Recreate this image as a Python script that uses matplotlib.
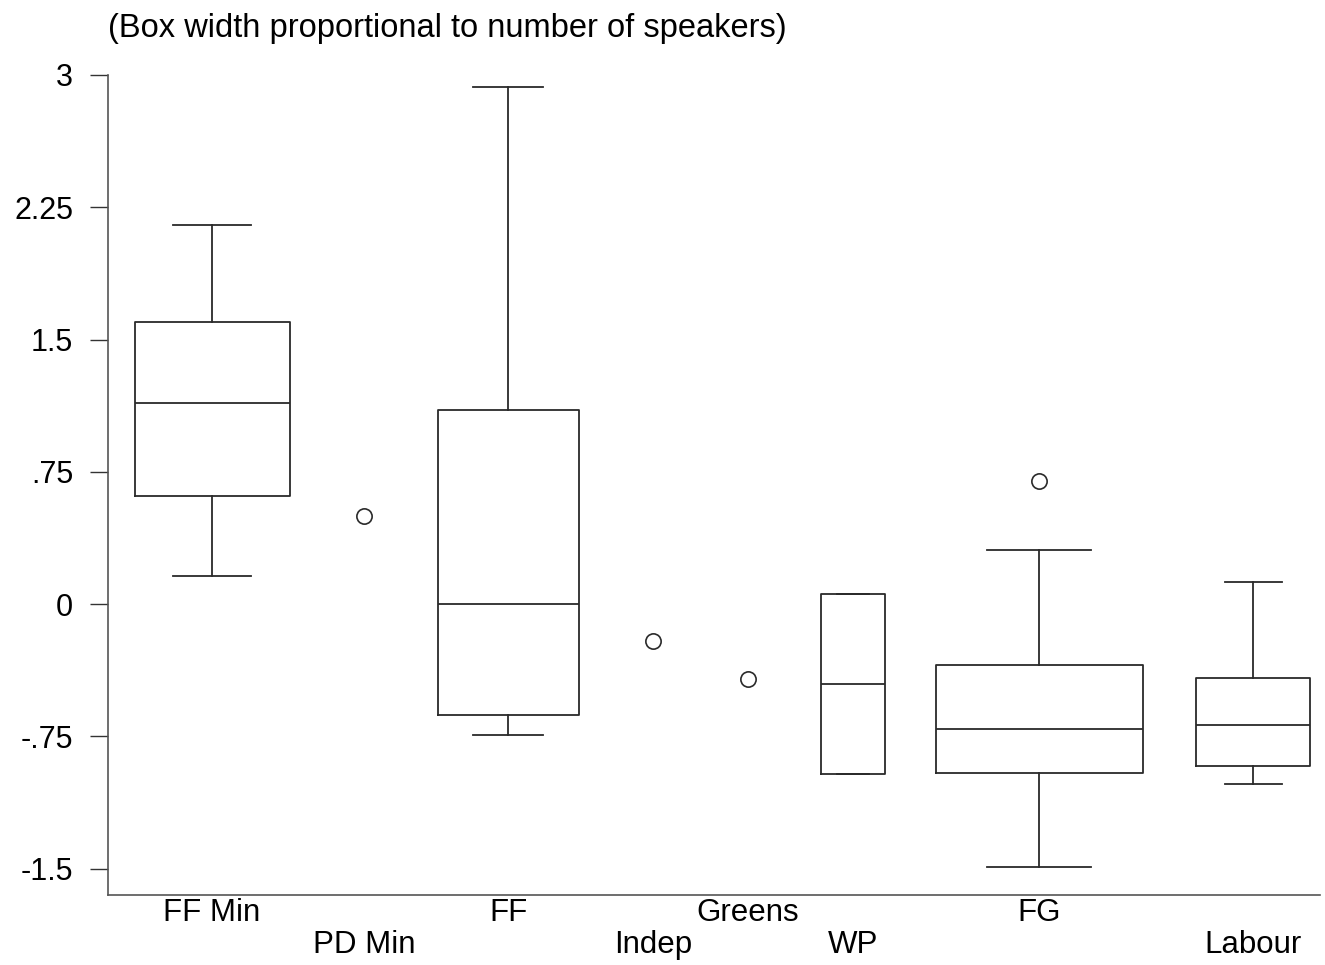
import numpy as np
import matplotlib.pyplot as plt

plt.rcParams['font.family'] = ['Liberation Sans', 'DejaVu Sans']

# groups
parties = ['FF Min', 'PD Min', 'FF', 'Indep', 'Greens', 'WP', 'FG', 'Labour']

# groups that get a box
box_parties = ['FF Min', 'FF', 'WP', 'FG', 'Labour']
whislo = [0.16, -0.74, -0.965, -1.49, -1.02]
q1 = [0.61, -0.63, -0.965, -0.96, -0.92]
med = [1.14, 0.0, -0.455, -0.71, -0.685]
q3 = [1.60, 1.10, 0.055, -0.345, -0.42]
whishi = [2.15, 2.93, 0.055, 0.305, 0.125]
outliers = [[], [], [], [0.70], []]

# groups with one speaker only
single_parties = ['PD Min', 'Indep', 'Greens']
single_values = [0.50, -0.21, -0.425]

# layout (pixel-like units along the x axis)
xpos = {'FF Min': 104, 'PD Min': 256, 'FF': 400, 'Indep': 545,
        'Greens': 640, 'WP': 745, 'FG': 931, 'Labour': 1145}
box_widths = [155, 141, 64, 207, 114]

fig = plt.figure(figsize=(13.25, 9.65), dpi=100)
ax = fig.add_axes([108 / 1325, 70 / 965, 1212 / 1325, 820 / 965])

stats = []
for i, p in enumerate(box_parties):
    stats.append({'label': p, 'whislo': whislo[i], 'q1': q1[i], 'med': med[i],
                  'q3': q3[i], 'whishi': whishi[i], 'fliers': outliers[i]})

lc = '#2a2a2a'
lw = 1.3
ax.bxp(stats, positions=[xpos[p] for p in box_parties], widths=box_widths,
       capwidths=[w / 2 for w in box_widths], manage_ticks=False,
       boxprops=dict(color=lc, linewidth=lw),
       whiskerprops=dict(color=lc, linewidth=lw),
       capprops=dict(color=lc, linewidth=lw),
       medianprops=dict(color=lc, linewidth=lw),
       flierprops=dict(marker='o', markersize=11, markerfacecolor='white',
                       markeredgecolor=lc, markeredgewidth=1.2))

ax.plot([xpos[p] for p in single_parties], single_values, 'o', markersize=11,
        markerfacecolor='white', markeredgecolor=lc, markeredgewidth=1.2,
        linestyle='none')

ax.set_xlim(0, 1212)
ax.set_ylim(-1.65, 3.0)

yt = [-1.5, -0.75, 0, 0.75, 1.5, 2.25, 3]
ax.set_yticks(yt)
ax.set_yticklabels(['-1.5', '-.75', '0', '.75', '1.5', '2.25', '3'], fontsize=22)
ax.tick_params(axis='y', length=13, width=1.0, color='#333333', pad=12)

labels = [p if i % 2 == 0 else '\n' + p for i, p in enumerate(parties)]
ax.set_xticks([xpos[p] for p in parties])
ax.set_xticklabels(labels, fontsize=22.5, linespacing=1.1)
ax.tick_params(axis='x', length=0, pad=2)

for s in ['top', 'right']:
    ax.spines[s].set_visible(False)
for s in ['left', 'bottom']:
    ax.spines[s].set_color('#555555')
    ax.spines[s].set_linewidth(1.2)

fig.text(108 / 1325, 1 - 37 / 965, '(Box width proportional to number of speakers)',
         fontsize=23.5, va='baseline', ha='left')

fig.savefig('out.png', dpi=100, facecolor='white')
